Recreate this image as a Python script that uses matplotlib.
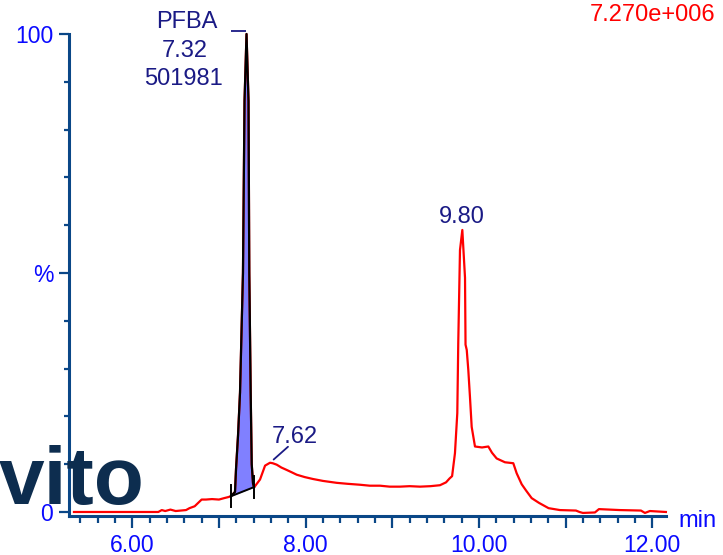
import numpy as np
import matplotlib
matplotlib.use("Agg")
import matplotlib.pyplot as plt
from matplotlib.ticker import MultipleLocator, FixedLocator, FuncFormatter
from matplotlib.transforms import offset_copy

# ---------------- data ----------------
time_min = [5.327, 6.300, 6.340, 6.380, 6.440, 6.500, 6.560, 6.620, 6.660, 6.720,
            6.760, 6.800, 6.850, 6.920, 7.000, 7.060, 7.104, 7.139, 7.185, 7.197,
            7.220, 7.243, 7.277, 7.295, 7.318, 7.341, 7.350, 7.366, 7.378, 7.393,
            7.404, 7.416, 7.474, 7.532, 7.589, 7.620, 7.666, 7.720, 7.781, 7.840,
            7.897, 7.990, 8.085, 8.200, 8.358, 8.480, 8.627, 8.740, 8.858, 8.970,
            9.089, 9.200, 9.320, 9.440, 9.550, 9.620, 9.660, 9.690, 9.723, 9.750,
            9.761, 9.781, 9.808, 9.839, 9.845, 9.859, 9.877, 9.896, 9.916, 9.954,
            10.035, 10.108, 10.150, 10.204, 10.300, 10.396, 10.435, 10.493, 10.543, 10.608,
            10.693, 10.803, 10.934, 11.119, 11.160, 11.199, 11.338, 11.384, 11.626, 11.869,
            11.915, 11.972, 12.157]
intensity_pct = [0.0, 0.0, 0.4, 0.2, 0.5, 0.2, 0.3, 0.4, 0.8, 1.2,
                 1.9, 2.6, 2.6, 2.7, 2.6, 2.9, 3.1, 3.3, 4.2, 9.0,
                 16.0, 25.0, 50.0, 86.0, 100.0, 86.0, 50.0, 25.0, 10.0, 6.0,
                 5.2, 5.4, 6.8, 9.7, 10.3, 10.2, 9.9, 9.3, 8.8, 8.3,
                 7.8, 7.3, 6.9, 6.5, 6.1, 5.9, 5.7, 5.5, 5.5, 5.3,
                 5.3, 5.4, 5.3, 5.4, 5.6, 6.2, 7.0, 7.5, 12.3, 20.7,
                 35.3, 54.8, 59.0, 49.0, 35.0, 33.9, 29.7, 24.1, 17.8, 13.7,
                 13.5, 13.7, 12.4, 11.2, 10.4, 10.2, 8.1, 5.8, 4.5, 2.9,
                 1.9, 0.8, 0.4, 0.3, 0.0, -0.2, -0.1, 0.6, 0.4, 0.3,
                 -0.2, 0.2, 0.0]

peak_labels = ["7.32", "7.62", "9.80"]
peak_times = [7.32, 7.62, 9.80]
compound_name = "PFBA"
compound_area = "501981"
integration_window = [7.139, 7.404]
full_scale = "7.270e+006"
x_tick_labels = ["6.00", "8.00", "10.00", "12.00"]
y_tick_labels = {0: "0", 50: "%", 100: "100"}

# ---------------- style ----------------
AXIS_C = "#0a4787"
TICK_C = "#0a0aff"
ANN_C = "#1a1a85"
RED = "#ff0000"
FILL_C = "#8080ff"
LOGO_C = "#0d2d4f"
FONT = "Liberation Sans"

t = np.array(time_min)
y = np.array(intensity_pct)

fig = plt.figure(figsize=(7.23, 5.55), dpi=100)
W, H = 723, 555
x_left_px, x_right_px, y_top_px, y_bot_px = 68.5, 666, 34, 516
ax = fig.add_axes([x_left_px / W, (H - y_bot_px) / H,
                   (x_right_px - x_left_px) / W, (y_bot_px - y_top_px) / H])
ax.set_xlim(5.264, 12.158)
ax.set_ylim(-0.84, 100)
px_per_min = (x_right_px - x_left_px) / (12.158 - 5.264)

for s in ["top", "right"]:
    ax.spines[s].set_visible(False)
for s in ["left", "bottom"]:
    ax.spines[s].set_color(AXIS_C)
    ax.spines[s].set_linewidth(2.2)
    ax.spines[s].set_capstyle("projecting")

# x ticks
ax.xaxis.set_major_locator(MultipleLocator(1.0))
ax.xaxis.set_minor_locator(MultipleLocator(0.2))
lab_map = {float(l): l for l in x_tick_labels}
ax.xaxis.set_major_formatter(FuncFormatter(lambda v, p: lab_map.get(round(v, 2), "")))
ax.tick_params(axis="x", which="major", direction="out", length=8.6, width=1.6,
               color=AXIS_C, labelcolor=TICK_C, labelsize=16.5, pad=4.0)
ax.tick_params(axis="x", which="minor", direction="out", length=5.0, width=1.6,
               color=AXIS_C)

# y ticks
ax.yaxis.set_major_locator(FixedLocator(list(y_tick_labels.keys())))
ax.yaxis.set_minor_locator(MultipleLocator(10))
ax.yaxis.set_major_formatter(FuncFormatter(lambda v, p: y_tick_labels.get(int(round(v)), "")))
ax.tick_params(axis="y", which="major", direction="out", length=7.4, width=1.6,
               color=AXIS_C, labelcolor=TICK_C, labelsize=16.5, pad=3.6)
ax.tick_params(axis="y", which="minor", direction="out", length=3.6, width=1.6,
               color=AXIS_C)
for lab in ax.get_xticklabels() + ax.get_yticklabels():
    lab.set_fontfamily(FONT)

# trace
ax.plot(t, y, color=RED, lw=1.6, clip_on=False, zorder=3)

# integrated peak
t0, t1 = integration_window
b0, b1 = np.interp(t0, t, y), np.interp(t1, t, y)
mask = (t >= t0) & (t <= t1)
tp = np.concatenate([[t0], t[mask], [t1]])
yp = np.concatenate([[b0], y[mask], [b1]])
base = b0 + (tp - t0) * (b1 - b0) / (t1 - t0)
ax.fill_between(tp, base, yp, color=FILL_C, lw=0, zorder=2)
ax.plot(tp, yp, color="black", lw=1.6, zorder=4, clip_on=False)
ax.plot([t0, t1], [b0, b1], color="black", lw=1.4, zorder=4)
tick_half = 11 / 4.78
for tt, bb in [(t0, b0), (t1, b1)]:
    ax.plot([tt, tt], [bb - tick_half, bb + tick_half], color="black", lw=1.4, zorder=4)

# apex positions
def apex(tc):
    m = (t > tc - 0.1) & (t < tc + 0.1)
    i = np.argmax(np.where(m, y, -np.inf))
    return t[i], y[i]

txt_kw = dict(color=ANN_C, fontsize=17, family=FONT, ha="center", va="baseline",
              xycoords="data", textcoords="offset pixels", annotation_clip=False)

# PFBA block
a0 = apex(peak_times[0])
ax.annotate(compound_name, xy=a0, xytext=(-59.5, 5.8), **txt_kw)
ax.annotate(peak_labels[0], xy=a0, xytext=(-61.5, -23.2), **txt_kw)
ax.annotate(compound_area, xy=a0, xytext=(-63.5, -51.3), **txt_kw)
dash_tr = offset_copy(ax.transData, fig=fig, x=0, y=3, units="dots")
ax.plot([a0[0] - 15.5 / px_per_min, a0[0] - 1.0 / px_per_min], [a0[1], a0[1]],
        color=ANN_C, lw=1.3, transform=dash_tr, clip_on=False, solid_capstyle="butt")

# 7.62
a1 = apex(peak_times[1])
ax.annotate(peak_labels[1], xy=a1, xytext=(25, 19.3), **txt_kw)
ax.annotate("", xy=(a1[0], a1[1]), xytext=(18, 16), xycoords="data",
            textcoords="offset pixels", annotation_clip=False,
            arrowprops=dict(arrowstyle="-", color=ANN_C, lw=1.3, shrinkA=0, shrinkB=3.5))

# 9.80
a2 = apex(peak_times[2])
ax.annotate(peak_labels[2], xy=a2, xytext=(-1, 6.5), **txt_kw)

# full-scale label and unit
fig.text(715 / W, (H - 21.3) / H, full_scale, color=RED, fontsize=17, family=FONT,
         ha="right", va="baseline")
fig.text(678 / W, (H - 527) / H, "min", color=TICK_C, fontsize=17, family=FONT,
         ha="left", va="baseline")

# logo
fig.text(-1 / W, (H - 504) / H, "vito", color=LOGO_C, fontsize=59, family=FONT,
         fontweight="bold", ha="left", va="baseline")

fig.savefig("out.png", dpi=100)
